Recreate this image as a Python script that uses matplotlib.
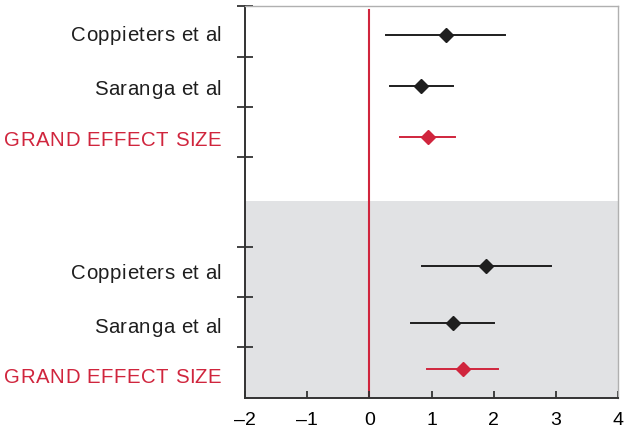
import numpy as np
import matplotlib
matplotlib.use("Agg")
import matplotlib.pyplot as plt
from matplotlib.font_manager import FontProperties
from matplotlib.textpath import TextToPath

plt.rcParams['font.family'] = ['Liberation Sans', 'DejaVu Sans']

# study labels, top panel then bottom (shaded) panel
labels = ["Coppieters et al", "Saranga et al", "GRAND EFFECT SIZE",
          "Coppieters et al", "Saranga et al", "GRAND EFFECT SIZE"]
effect = [1.23, 0.83, 0.94, 1.88, 1.34, 1.50]
ci_low = [0.27, 0.34, 0.50, 0.85, 0.67, 0.93]
ci_high = [2.19, 1.34, 1.38, 2.93, 2.01, 2.07]
is_grand = [False, False, True, False, False, True]

# row positions (y axis in 50px units, bottom = 0)
row_y = [7.26, 6.24, 5.22, 2.64, 1.50, 0.58]
label_y = [7.30, 6.22, 5.20, 2.54, 1.46, 0.46]
ytick_pos = [1.02, 2.02, 3.02, 4.82, 5.82, 6.82, 7.84]
xticks = [-2, -1, 0, 1, 2, 3, 4]
shade_top = 3.94

red = "#d0253d"
dark = "#1e1e1e"
lab_size = 14.7
tracking = 0.35  # extra space between letters, points

fig = plt.figure(figsize=(6.31, 4.44), dpi=100)
ax = fig.add_axes([245/631, 46/444, 373/631, 392/444])

ax.set_xlim(-2, 4)
ax.set_ylim(0, 7.84)
ax.axhspan(0, shade_top, color="#e1e2e4", lw=0, zorder=0)
ax.axvline(0, ymin=0, ymax=0.99, color=red, lw=1.5, zorder=1)

prop = FontProperties(family='Liberation Sans', size=lab_size)
ttp = TextToPath()


def tracked_label(s, y, color, right_pt=-17):
    # right aligned text with letter spacing, drawn char by char
    w_all = ttp.get_text_width_height_descent(s, prop, ismath=False)[0]
    total = w_all + tracking * (len(s) - 1)
    start = right_pt - total
    for k, ch in enumerate(s):
        if ch == ' ':
            continue
        w_pre = ttp.get_text_width_height_descent(s[:k], prop, ismath=False)[0] if k else 0
        ax.annotate(ch, xy=(0, y), xycoords=ax.get_yaxis_transform(),
                    xytext=(start + w_pre + tracking * k, 0), textcoords='offset points',
                    ha='left', va='center_baseline', fontproperties=prop, color=color)


for i in range(len(labels)):
    c = red if is_grand[i] else dark
    ax.plot([ci_low[i], ci_high[i]], [row_y[i], row_y[i]], color=c, lw=1.4, zorder=2)
    ax.plot(effect[i], row_y[i], marker='D', color=c, ms=7, zorder=3)
    tracked_label(labels[i], label_y[i], c)

ax.set_yticks(ytick_pos)
ax.set_yticklabels([])
ax.set_xticks(xticks)
ax.set_xticklabels([str(t).replace('-', '\u2013') for t in xticks], fontsize=14)
ax.tick_params(axis='y', direction='inout', length=11, width=1.3, color="#333333")
ax.tick_params(axis='x', direction='in', length=5, width=1.3, color="#333333", pad=10)

for s in ['left', 'bottom']:
    ax.spines[s].set_color("#333333")
    ax.spines[s].set_linewidth(1.4)
for s in ['top', 'right']:
    ax.spines[s].set_color("#b0b0b0")
    ax.spines[s].set_linewidth(1.0)

fig.savefig("out.png", dpi=100)
